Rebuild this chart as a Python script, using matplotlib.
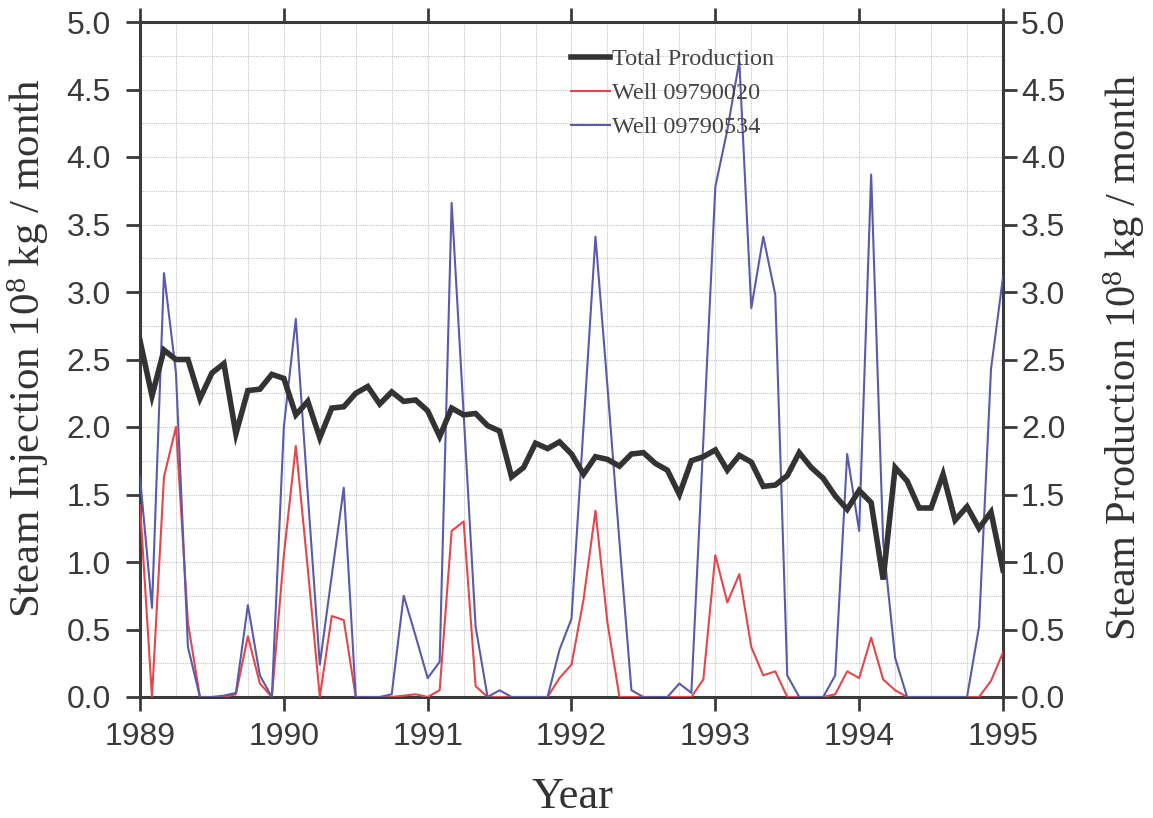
import numpy as np
import matplotlib
matplotlib.use("Agg")
import matplotlib.pyplot as plt
from matplotlib.ticker import MultipleLocator, FormatStrFormatter
from matplotlib.lines import Line2D

# Monthly values, Jan 1989 .. Jan 1995 (10^8 kg / month)
start_year = 1989
total_production = [
    2.64, 2.23, 2.57, 2.50, 2.50, 2.21, 2.40, 2.47, 1.95, 2.27, 2.28, 2.39,
    2.36, 2.09, 2.19, 1.92, 2.14, 2.15, 2.25, 2.30, 2.17, 2.26, 2.19, 2.20,
    2.12, 1.93, 2.14, 2.09, 2.10, 2.01, 1.97, 1.63, 1.70, 1.88, 1.84, 1.89,
    1.80, 1.65, 1.78, 1.76, 1.71, 1.80, 1.81, 1.73, 1.68, 1.50, 1.75, 1.78,
    1.83, 1.68, 1.79, 1.74, 1.56, 1.57, 1.64, 1.81, 1.70, 1.62, 1.49, 1.39,
    1.53, 1.44, 0.87, 1.70, 1.60, 1.40, 1.40, 1.65, 1.31, 1.41, 1.25, 1.37,
    0.94,
]
well_09790020 = [
    1.42, 0.00, 1.63, 2.00, 0.55, 0.00, 0.00, 0.00, 0.02, 0.45, 0.10, 0.00,
    1.05, 1.86, 0.95, 0.00, 0.60, 0.57, 0.00, 0.00, 0.00, 0.00, 0.01, 0.02,
    0.00, 0.05, 1.23, 1.30, 0.08, 0.00, 0.00, 0.00, 0.00, 0.00, 0.00, 0.14,
    0.24, 0.72, 1.38, 0.55, 0.00, 0.00, 0.00, 0.00, 0.00, 0.00, 0.00, 0.13,
    1.05, 0.70, 0.91, 0.37, 0.16, 0.19, 0.00, 0.00, 0.00, 0.00, 0.02, 0.19,
    0.14, 0.44, 0.13, 0.05, 0.00, 0.00, 0.00, 0.00, 0.00, 0.00, 0.00, 0.12,
    0.33,
]
well_09790534 = [
    1.63, 0.66, 3.14, 2.40, 0.37, 0.00, 0.00, 0.01, 0.03, 0.68, 0.16, 0.00,
    2.00, 2.80, 1.50, 0.24, 0.90, 1.55, 0.00, 0.00, 0.00, 0.02, 0.75, 0.45,
    0.14, 0.26, 3.66, 2.10, 0.52, 0.00, 0.05, 0.00, 0.00, 0.00, 0.00, 0.35,
    0.58, 2.00, 3.41, 2.30, 1.15, 0.05, 0.00, 0.00, 0.00, 0.10, 0.03, 1.90,
    3.78, 4.20, 4.71, 2.88, 3.41, 2.98, 0.16, 0.00, 0.00, 0.00, 0.16, 1.80,
    1.23, 3.87, 1.15, 0.29, 0.00, 0.00, 0.00, 0.00, 0.00, 0.00, 0.52, 2.43,
    3.11,
]
series_labels = ["Total Production", "Well 09790020", "Well 09790534"]

t = start_year + np.arange(len(total_production)) / 12.0

plt.rcParams["font.family"] = ["Liberation Sans", "DejaVu Sans"]
plt.rcParams["mathtext.default"] = "regular"

c_total = "#333333"
c_red = "#e2474d"
c_blue = "#5a5aaa"
frame = "#3a3a3a"

fig = plt.figure(figsize=(11.53, 8.18), dpi=100)
ax = fig.add_axes([140 / 1153, 1 - 697 / 818, 863 / 1153, 675 / 818])

ax.plot(t, well_09790020, color=c_red, lw=1.5, zorder=3)
ax.plot(t, well_09790534, color=c_blue, lw=1.5, zorder=3)
ax.plot(t, total_production, color=c_total, lw=4.0, zorder=4,
        solid_joinstyle="miter")

ax.set_xlim(1989, 1995)
ax.set_ylim(0, 5)
ax.xaxis.set_major_locator(MultipleLocator(1))
ax.xaxis.set_minor_locator(MultipleLocator(0.25))
ax.yaxis.set_major_locator(MultipleLocator(0.5))
ax.yaxis.set_minor_locator(MultipleLocator(0.25))
ax.yaxis.set_major_formatter(FormatStrFormatter("%.1f"))
ax.xaxis.set_major_formatter(FormatStrFormatter("%d"))

ax.grid(which="both", color="#c4c4c4", linestyle=(0, (1.0, 1.0)), lw=0.8,
        zorder=0)
ax.set_axisbelow(True)

for s in ax.spines.values():
    s.set_color(frame)
    s.set_linewidth(2.2)

ax.tick_params(which="major", direction="out", length=10, width=2,
               color=frame, labelsize=23, labelcolor="#3a3a3a",
               top=True, right=False)
ax.tick_params(axis="y", pad=11)
ax.tick_params(axis="x", pad=8)
ax.tick_params(which="minor", length=0)

ax2 = ax.twinx()
ax2.set_ylim(0, 5)
ax2.yaxis.set_major_locator(MultipleLocator(0.5))
ax2.yaxis.set_major_formatter(FormatStrFormatter("%.1f"))
ax2.tick_params(which="major", direction="out", length=10, width=2,
                color=frame, labelsize=23, labelcolor="#3a3a3a", pad=3)
for s in ax2.spines.values():
    s.set_visible(False)

serif = ["Liberation Serif", "DejaVu Serif"]
fig.text(28 / 1153, 1 - 348 / 818, r"Steam Injection 10$^{8}$ kg / month",
         rotation=90, ha="center", va="center", fontsize=31,
         family=serif, color="#333333")
fig.text(1124 / 1153, 1 - 357 / 818, r"Steam Production 10$^{8}$ kg / month",
         rotation=90, ha="center", va="center", fontsize=30.5,
         family=serif, color="#333333")
fig.text(572 / 1153, 1 - 797 / 818, "Year", ha="center", va="center",
         fontsize=32, family=serif, color="#333333")

handles = [
    Line2D([], [], color=c_total, lw=4.0),
    Line2D([], [], color=c_red, lw=1.5),
    Line2D([], [], color=c_blue, lw=1.5),
]
leg = ax.legend(handles, series_labels, loc="upper left",
                bbox_to_anchor=(571 / 1153, 1 - 48 / 818),
                bbox_transform=fig.transFigure, frameon=False,
                prop={"family": serif, "size": 17.5}, handlelength=1.6,
                handletextpad=0.1, labelspacing=0.5, borderpad=0,
                borderaxespad=0)
for txt in leg.get_texts():
    txt.set_color("#444444")

fig.savefig("out.png", dpi=100)
